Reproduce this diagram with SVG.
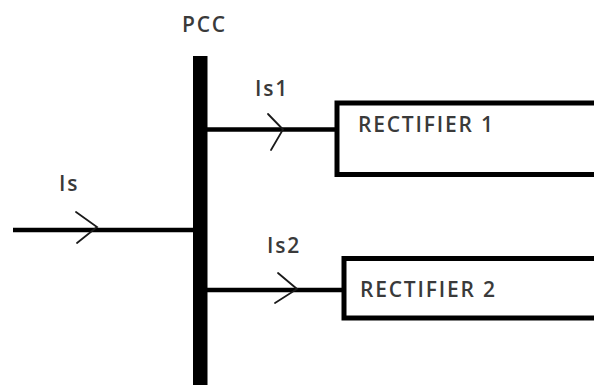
<svg xmlns="http://www.w3.org/2000/svg" width="594" height="385" viewBox="0 0 594 385">
  <style>
    .lbl { font-family: "Open Sans", "Liberation Sans", Arial, sans-serif; font-size: 21px; font-weight: 600; fill: #3a3a3a; letter-spacing: 1.8px; }
    .wire { stroke: #000; stroke-width: 4.5; fill: none; }
    .box { stroke: #000; stroke-width: 5; fill: #fff; }
    .chev { stroke: #1a1a1a; stroke-width: 1.8; fill: none; stroke-linecap: round; stroke-linejoin: miter; }
  </style>
  <rect width="594" height="385" fill="#fff"/>

  <g id="connectors">
    <line class="wire" x1="13" y1="230" x2="194" y2="230"/>
    <line class="wire" x1="206" y1="129.5" x2="336" y2="129.5"/>
    <line class="wire" x1="206" y1="290" x2="343" y2="290"/>
    <polyline class="chev" points="76,212 97,227 77,243"/>
    <polyline class="chev" points="268,114 283,129.5 271,150"/>
    <polyline class="chev" points="278,273 297,289 275,303"/>
  </g>

  <g id="pcc">
    <rect x="193" y="56" width="14.5" height="330" fill="#000"/>
    <text class="lbl" x="182" y="32">PCC</text>
  </g>

  <g id="source">
    <text class="lbl" x="59" y="191">Is</text>
  </g>

  <g id="rectifier1">
    <rect class="box" x="337" y="103" width="270" height="71.5"/>
    <text class="lbl" x="358" y="132">RECTIFIER 1</text>
  </g>

  <g id="rectifier2">
    <rect class="box" x="344" y="258.5" width="270" height="59.5"/>
    <text class="lbl" x="360" y="297">RECTIFIER 2</text>
  </g>

  <g id="labels">
    <text class="lbl" x="255" y="96">Is1</text>
    <text class="lbl" x="267" y="253">Is2</text>
  </g>
</svg>
